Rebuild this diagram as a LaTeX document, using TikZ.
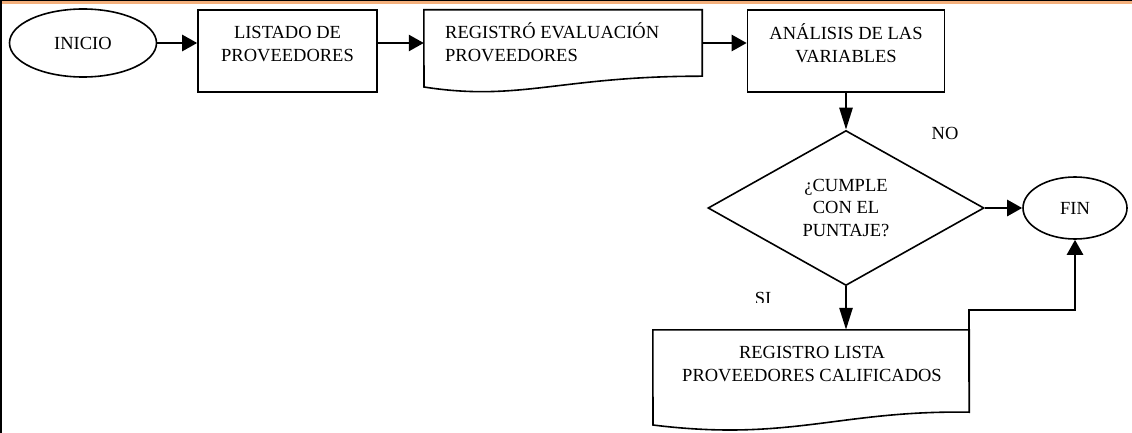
\documentclass[tikz,border=0pt]{standalone}
\usepackage{fontspec}
\setmainfont{Liberation Serif}
\usetikzlibrary{shapes.geometric,arrows.meta}
\definecolor{naranja}{RGB}{244,176,124}
\begin{document}
\begin{tikzpicture}[x=1pt,y=-1pt,font=\fontsize{18.5}{22.5}\selectfont]
\tikzstyle{caja}=[draw,line width=1.6pt,rectangle,inner sep=0pt]
\tikzstyle{hoja}=[rectangle,inner sep=0pt]
\tikzstyle{elipse}=[draw,line width=1.6pt,ellipse,inner sep=0pt]
\tikzstyle{rombo}=[draw,line width=1.6pt,diamond,inner sep=0pt,aspect=1.78,align=center]
\tikzstyle{texto}=[inner sep=0pt,align=center]
\tikzstyle{flecha}=[line width=2.6pt,-{Triangle[length=15pt,width=16pt]}]
\tikzstyle{flechav}=[line width=2.6pt,-{Triangle[length=22pt,width=13pt]}]
\useasboundingbox (0,0) rectangle (1132,433);
\draw[line width=1.2pt] (0,0.6) -- (1132,0.6);
\draw[naranja,line width=2.4pt] (0,2.4) -- (1132,2.4);
\draw[line width=2.2pt] (1.1,0) -- (1.1,433);
\node[elipse,minimum width=147pt,minimum height=68pt] (inicio) at (83,43) {INICIO};
\node[caja,minimum width=179pt,minimum height=82pt] (listado) at (287.5,51) {};
\node[texto] (listadot) at (287.5,44) {LISTADO DE\\PROVEEDORES};
\node[hoja,minimum width=278pt,minimum height=66pt] (registro) at (563,43) {};
\draw[line width=1.6pt] (registro.north west) -- (registro.north east) -- (registro.south east)
  .. controls (560,76) and (520,102) .. (424,87) -- cycle;
\node[texto,anchor=west,align=left] (registrot) at (445,42) {REGISTRÓ EVALUACIÓN\\PROVEEDORES};
\node[caja,minimum width=197pt,minimum height=82pt] (analisis) at (846,51) {};
\node[texto] (analisist) at (846,43) {ANÁLISIS DE LAS\\VARIABLES};
\node[rombo,minimum width=276pt,minimum height=155pt] (cumple) at (846,208) {¿CUMPLE\\CON EL\\PUNTAJE?};
\node[elipse,minimum width=104pt,minimum height=62pt] (fin) at (1075,208) {FIN};
\node[hoja,minimum width=316pt,minimum height=82pt] (lista) at (811,371) {};
\draw[line width=1.6pt] (lista.north west) -- (lista.north east) -- (lista.south east)
  .. controls (840,410) and (790,442) .. (653,425) -- cycle;
\node[texto] (listat) at (812,364) {REGISTRO LISTA\\PROVEEDORES CALIFICADOS};
\node (no) at (945,133) {NO};
\begin{scope}
\clip (740,280) rectangle (800,302);
\node (si) at (763,298) {SI};
\end{scope}
\coordinate (salida) at (969,382);
\coordinate (codo) at (969,310);
\draw[flecha] (inicio.east) -- (inicio.east -| listado.west);
\draw[flecha] (listado.east |- registro.west) -- (registro.west);
\draw[flecha] (registro.east) -- (registro.east -| analisis.west);
\draw[flechav] (analisis.south) -- (cumple.north);
\draw[flecha] (cumple.east) -- (fin.west);
\draw[flechav] (cumple.south) -- (cumple.south |- lista.north);
\draw[flecha] (salida) -- (codo) -| (fin.south);
\end{tikzpicture}
\end{document}
